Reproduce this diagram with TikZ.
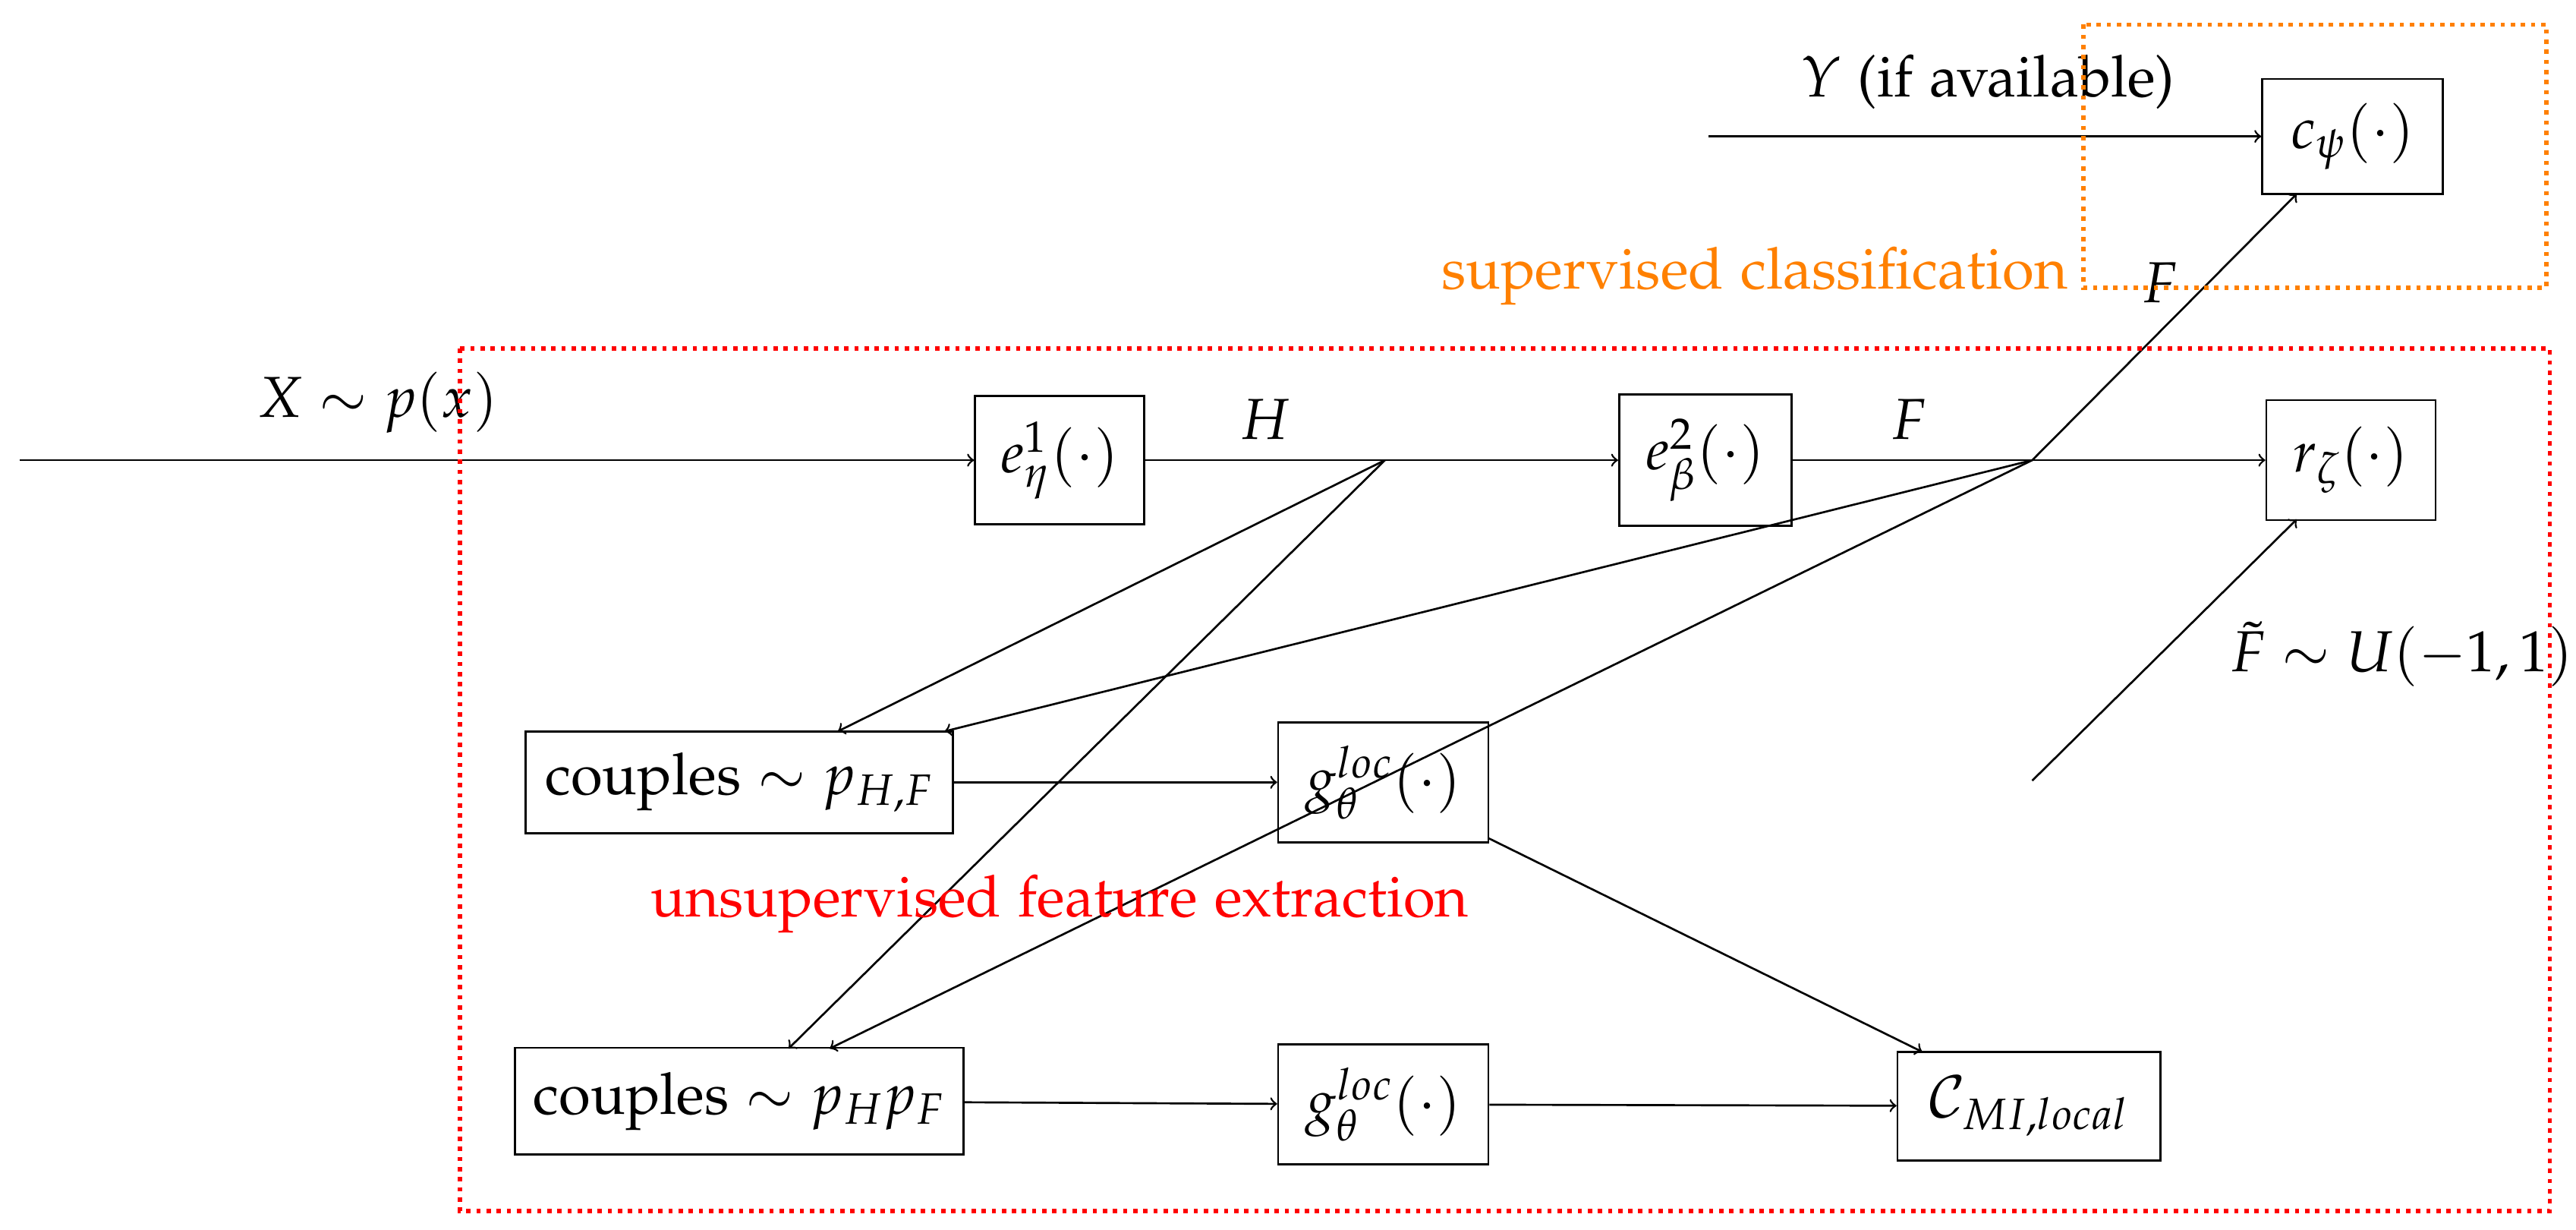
\documentclass[tikz,border=0pt]{standalone}
\usepackage[T1]{fontenc}
\usepackage{mathpazo}
\renewcommand{\rmdefault}{pplx}
\begin{document}
\begin{tikzpicture}[x=0.02cm,y=-0.02cm,font=\fontsize{20}{24}\selectfont,
  box/.style={draw,line width=0.7pt,inner sep=0pt},
  ln/.style={line width=0.7pt},
  ar/.style={ln,->}]
\useasboundingbox (0,0) rectangle (1568,748);
\node[box,minimum width=2.06cm,minimum height=1.56cm] (e1) at (645,280) {$e^1_\eta(\cdot)$};
\node[box,minimum width=2.1cm,minimum height=1.6cm] (e2) at (1038,280) {$e^2_\beta(\cdot)$};
\node[box,minimum width=2.06cm,minimum height=1.46cm] (r) at (1431,280) {$r_\zeta(\cdot)$};
\node[box,minimum width=2.2cm,minimum height=1.4cm] (c) at (1432,83) {$c_\psi(\cdot)$};
\node[box,minimum width=5.2cm,minimum height=1.24cm] (p1) at (450,476) {couples $\sim p_{H,F}$};
\node[box,minimum width=2.56cm,minimum height=1.46cm] (g1) at (842,476) {$g^{loc}_\theta(\cdot)$};
\node[box,minimum width=5.46cm,minimum height=1.3cm] (p2) at (450,670) {couples $\sim p_H p_F$};
\node[box,minimum width=2.56cm,minimum height=1.46cm] (g2) at (842,672) {$g^{loc}_\theta(\cdot)$};
\node[box,minimum width=3.2cm,minimum height=1.32cm] (cm) at (1235,673) {$\mathcal{C}_{MI,local}$};
\coordinate (xs) at (12,280);
\coordinate (hj) at (843,280);
\coordinate (fj) at (1237,280);
\coordinate (ys) at (1040,83);
\coordinate (ts) at (1237,475);
\coordinate (ce) at (1398,118);
\coordinate (re) at (1398,316);
\draw[ar] (xs) -- (e1);
\draw[ln] (e1) -- (hj); \draw[ar] (hj) -- (e2);
\draw[ln] (e2) -- (fj); \draw[ar] (fj) -- (r);
\draw[ar] (fj) -- (ce);
\draw[ar] (ys) -- (c);
\draw[ar] (ts) -- (re);
\draw[ar] (hj) -- (510,445);
\draw[ar] (hj) -- (480,638);
\draw[ar] (fj) -- (575,445);
\draw[ar] (fj) -- (505,638);
\draw[ar] (p1) -- (g1);
\draw[ar] (906,510) -- (1170,640);
\draw[ar] (p2) -- (g2);
\draw[ar] (g2) -- (cm);
\node at (230,245) {$X\sim p(x)$};
\node at (770,255) {$H$};
\node at (1162,255) {$F$};
\node at (1315,172) {$F$};
\node at (1210,50) {$Y$ (if available)};
\node at (1462,398) {$\tilde F\sim U(-1,1)$};
\draw[red,line width=1.5pt,dotted] (280,212) rectangle (1552,737);
\draw[orange,line width=1.5pt,dotted] (1268,15) rectangle (1550,175);
\node[red] at (645,550) {unsupervised feature extraction};
\node[orange] at (1068,168) {supervised classification};
\end{tikzpicture}
\end{document}
